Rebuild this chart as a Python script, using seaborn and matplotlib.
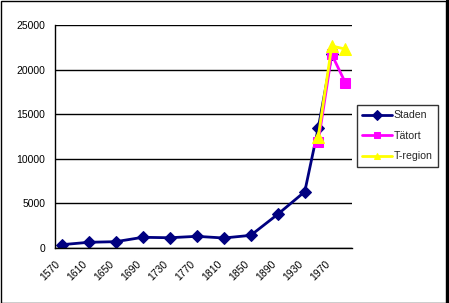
import matplotlib
matplotlib.use("Agg")
import matplotlib.pyplot as plt
import seaborn as sns
import pandas as pd
from matplotlib.patches import Rectangle

# ---- data ----
categories = list(range(1570, 2000, 20))          # 22 category slots
tick_labels = [str(y) if i % 2 == 0 else "" for i, y in enumerate(categories)]

staden_years = [1570, 1610, 1650, 1690, 1730, 1770, 1810, 1850, 1890, 1930, 1950, 1970]
staden_vals = [370, 640, 710, 1200, 1150, 1310, 1120, 1420, 3780, 6310, 13450, 21700]

tatort_years = [1950, 1970, 1990]
tatort_vals = [11900, 21700, 18550]

tregion_years = [1950, 1970, 1990]
tregion_vals = [12480, 22650, 22300]

series = [
    ("Staden", staden_years, staden_vals, "#000080", "D", 6.5),
    ("Tätort", tatort_years, tatort_vals, "#FF00FF", "s", 7),
    ("T-region", tregion_years, tregion_vals, "#FFFF00", "^", 8),
]

sns.set_style("white")
plt.rcParams["font.family"] = ["Liberation Sans", "DejaVu Sans"]

W, H = 449, 303
fig = plt.figure(figsize=(W / 100, H / 100), dpi=100)
fig.patch.set_facecolor("white")
ax = fig.add_axes([55 / W, (H - 248) / H, 297 / W, 223 / H])

for name, yrs, vals, col, mk, ms in series:
    df = pd.DataFrame({"x": [categories.index(y) for y in yrs], "y": vals})
    sns.lineplot(data=df, x="x", y="y", ax=ax, color=col, marker=mk,
                 markersize=ms, markeredgecolor=col, linewidth=2, label=name,
                 sort=False)

ax.set_xlim(-0.5, len(categories) - 0.5)
ax.set_ylim(0, 25000)
ax.set_yticks(range(0, 25001, 5000))
ax.set_yticklabels([str(v) for v in range(0, 25001, 5000)])
ax.set_xticks([i - 0.5 for i in range(len(categories))])
ax.set_xticklabels(tick_labels, rotation=45, ha="right", va="top",
                   rotation_mode="anchor")
ax.set_xlabel("")
ax.set_ylabel("")
ax.tick_params(axis="both", direction="out", length=4, width=1, color="black",
               labelsize=7.5, labelcolor="black", pad=2)
ax.tick_params(axis="x", pad=4)
ax.tick_params(axis="y", length=5)
ax.yaxis.grid(True, color="black", linewidth=1)
ax.set_axisbelow(True)
for s in ["top", "right"]:
    ax.spines[s].set_visible(False)
for s in ["left", "bottom"]:
    ax.spines[s].set_color("black")
    ax.spines[s].set_linewidth(1)
ax.set_facecolor("white")

leg = ax.legend(loc="upper left", bbox_to_anchor=(357 / W, 1 - 105 / H),
                bbox_transform=fig.transFigure, borderaxespad=0,
                frameon=True, fancybox=False, shadow=False, fontsize=7.6,
                handlelength=2.8, handletextpad=0.15, labelspacing=1.0,
                borderpad=0.5)
leg.get_frame().set_edgecolor("black")
leg.get_frame().set_linewidth(1)
for h in leg.legend_handles:
    h.set_markersize(5)

# chart-area border
fig.patches.append(Rectangle((0.5 / W, 0.5 / H), (W - 4) / W, (H - 1.5) / H,
                             transform=fig.transFigure, fill=False,
                             edgecolor="black", linewidth=1))
fig.patches.append(Rectangle(((W - 3.5) / W, 0), 3.5 / W, 1,
                             transform=fig.transFigure, fill=True,
                             facecolor="black", edgecolor="none"))

fig.savefig("out.png", dpi=100, facecolor="white")
